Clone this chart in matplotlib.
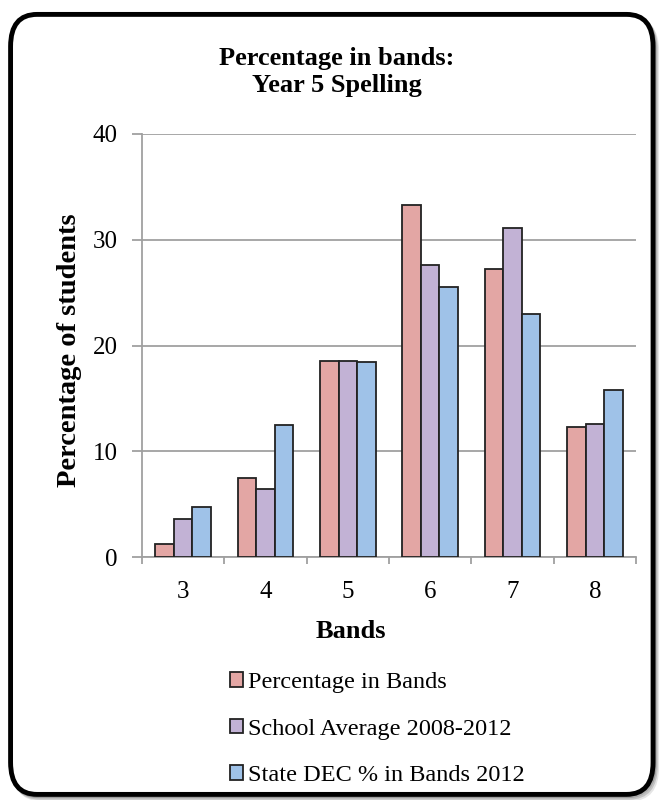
import numpy as np
import matplotlib
matplotlib.use('agg')
import matplotlib.pyplot as plt
from matplotlib.patches import FancyBboxPatch, Patch

bands = ['3', '4', '5', '6', '7', '8']
pct_in_bands = [1.2, 7.5, 18.5, 33.3, 27.2, 12.3]
school_avg = [3.6, 6.4, 18.5, 27.6, 31.1, 12.6]
state_dec = [4.7, 12.5, 18.4, 25.5, 23.0, 15.8]
series_names = ['Percentage in Bands', 'School Average 2008-2012',
                'State DEC % in Bands 2012']
colors = ['#e3a6a4', '#c2b2d5', '#9fc2e8']

plt.rcParams['font.family'] = ['Liberation Serif', 'DejaVu Serif']

fig = plt.figure(figsize=(6.61, 8.0), dpi=100)

# rounded frame with a soft shadow, kept behind the axes
box = dict(boxstyle='round,pad=0,rounding_size=0.04', transform=fig.transFigure, zorder=-10)
for off, a in [(0.006, 0.10), (0.004, 0.15), (0.002, 0.2)]:
    fig.patches.append(FancyBboxPatch((0.016 + off, 0.007 - off), 0.972, 0.975,
                                      fc='none', ec=(0, 0, 0, a), lw=3, **box))
fig.patches.append(FancyBboxPatch((0.016, 0.007), 0.972, 0.975,
                                  fc='white', ec='black', lw=3.5, **box))

ax = fig.add_axes([142 / 661, 1 - 557 / 800, (636 - 142) / 661, (557 - 134) / 800])
ax.set_zorder(1)
ax.patch.set_alpha(0)
x = np.arange(len(bands))
w = 0.225
for i, vals in enumerate([pct_in_bands, school_avg, state_dec]):
    ax.bar(x + (i - 1) * w, vals, width=w, color=colors[i], edgecolor='#222222',
           linewidth=1.3, zorder=3, label=series_names[i])

ax.set_xlim(-0.5, len(bands) - 0.5)
ax.set_ylim(0, 40)
ax.set_yticks([0, 10, 20, 30, 40])
ax.yaxis.grid(True, color='#a0a0a0', linewidth=1.3, zorder=0)
ax.set_axisbelow(True)
ax.set_xticks(x)
ax.set_xticklabels(bands)
ax.set_xticks(np.arange(-0.5, len(bands)), minor=True)
ax.tick_params(axis='x', which='major', length=0, labelsize=18, pad=17)
ax.tick_params(axis='x', which='minor', length=5, color='#a0a0a0', width=1.3)
ax.tick_params(axis='y', length=7.5, color='#a0a0a0', width=1.3, labelsize=18, pad=10)
for s in ['top', 'right']:
    ax.spines[s].set_visible(False)
for s in ['left', 'bottom']:
    ax.spines[s].set_color('#a0a0a0')
    ax.spines[s].set_linewidth(1.3)

fig.text(70 / 661, 1 - 350 / 800, 'Percentage of students', rotation=90,
         ha='center', va='center', fontsize=20.5, fontweight='bold')
fig.text(351 / 661, 1 - 632 / 800, 'Bands', ha='center', va='center',
         fontsize=19, fontweight='bold')
fig.text(0.51, 1 - 72 / 800, 'Percentage in bands:\nYear 5 Spelling', ha='center',
         va='center', fontsize=19, fontweight='bold', linespacing=1.25)

handles = [Patch(facecolor=c, edgecolor='#222222', linewidth=1.3) for c in colors]
fig.legend(handles, series_names, loc='upper left',
           bbox_to_anchor=(230 / 661, 1 - 672 / 800), frameon=False, fontsize=17.5,
           handlelength=0.55, handleheight=0.55, handletextpad=0.2, labelspacing=1.05,
           borderaxespad=0, borderpad=0)

fig.savefig('out.png', dpi=100)
